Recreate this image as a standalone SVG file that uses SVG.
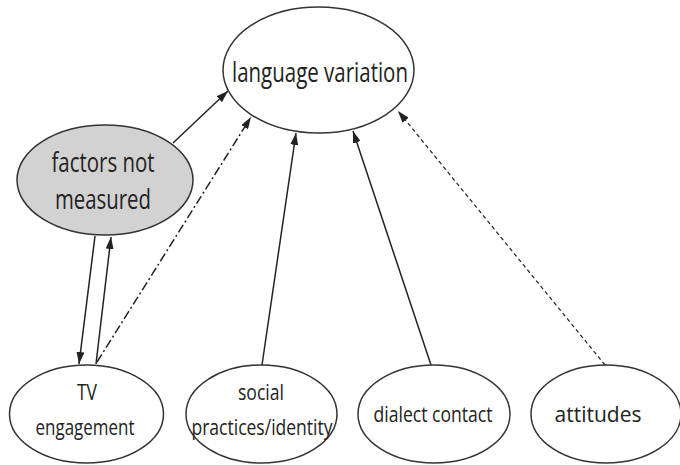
<svg xmlns="http://www.w3.org/2000/svg" width="680" height="465" viewBox="0 0 680 465">
<defs>
<marker id="ah" viewBox="0 0 12 8" refX="12" refY="4" markerWidth="12" markerHeight="8" markerUnits="userSpaceOnUse" orient="auto">
<path d="M0,0 L12,4 L0,8 Z" fill="#222"/>
</marker>
</defs>
<style>
.n{fill:#fff;stroke:#333;stroke-width:1.5}
.g{fill:#d2d2d2;stroke:#333;stroke-width:1.5}
.t{font-family:"Open Sans","Liberation Sans",sans-serif;fill:#222;text-anchor:middle}
.big{font-size:27px}
.sm{font-size:22px}
.c{stroke:#222;stroke-width:1.5;fill:none;marker-end:url(#ah)}
.dd{stroke-dasharray:9,3,2,3}
.ds{stroke-dasharray:4,3;stroke-width:1.2}
</style>
<rect width="680" height="465" fill="#fff"/>
<g id="connectors">
<line class="c" x1="173" y1="143" x2="228" y2="91"/>
<line class="c dd" x1="97" y1="362" x2="251" y2="117"/>
<line class="c" x1="262" y1="365" x2="296" y2="133"/>
<line class="c" x1="431" y1="365" x2="353" y2="131"/>
<line class="c ds" x1="605" y1="365" x2="398" y2="111"/>
<line class="c" x1="95" y1="236" x2="79" y2="364"/>
<line class="c" x1="96" y1="364" x2="111" y2="237"/>
</g>
<g id="language-variation">
<ellipse class="n" cx="318.5" cy="70" rx="95.5" ry="63"/>
<text class="t big" x="320" y="82" textLength="176" lengthAdjust="spacingAndGlyphs">language variation</text>
</g>
<g id="factors-not-measured">
<ellipse class="g" cx="105" cy="180" rx="88" ry="55"/>
<text class="t big" x="103" y="172" textLength="103" lengthAdjust="spacingAndGlyphs">factors not</text>
<text class="t big" x="103" y="209" textLength="96" lengthAdjust="spacingAndGlyphs">measured</text>
</g>
<g id="tv-engagement">
<ellipse class="n" cx="86.5" cy="414" rx="77" ry="49"/>
<text class="t sm" x="87" y="400" textLength="20" lengthAdjust="spacingAndGlyphs">TV</text>
<text class="t sm" x="85" y="435" textLength="99" lengthAdjust="spacingAndGlyphs">engagement</text>
</g>
<g id="social-practices">
<ellipse class="n" cx="261.5" cy="414" rx="75.5" ry="49"/>
<text class="t sm" x="261" y="400" textLength="46" lengthAdjust="spacingAndGlyphs">social</text>
<text class="t sm" x="262" y="435" textLength="141" lengthAdjust="spacingAndGlyphs">practices/identity</text>
</g>
<g id="dialect-contact">
<ellipse class="n" cx="434" cy="414" rx="76" ry="49"/>
<text class="t sm" x="433" y="422" textLength="119" lengthAdjust="spacingAndGlyphs">dialect contact</text>
</g>
<g id="attitudes">
<ellipse class="n" cx="606" cy="414" rx="75" ry="49"/>
<text class="t sm" x="598" y="422" textLength="87" lengthAdjust="spacingAndGlyphs">attitudes</text>
</g>
</svg>
